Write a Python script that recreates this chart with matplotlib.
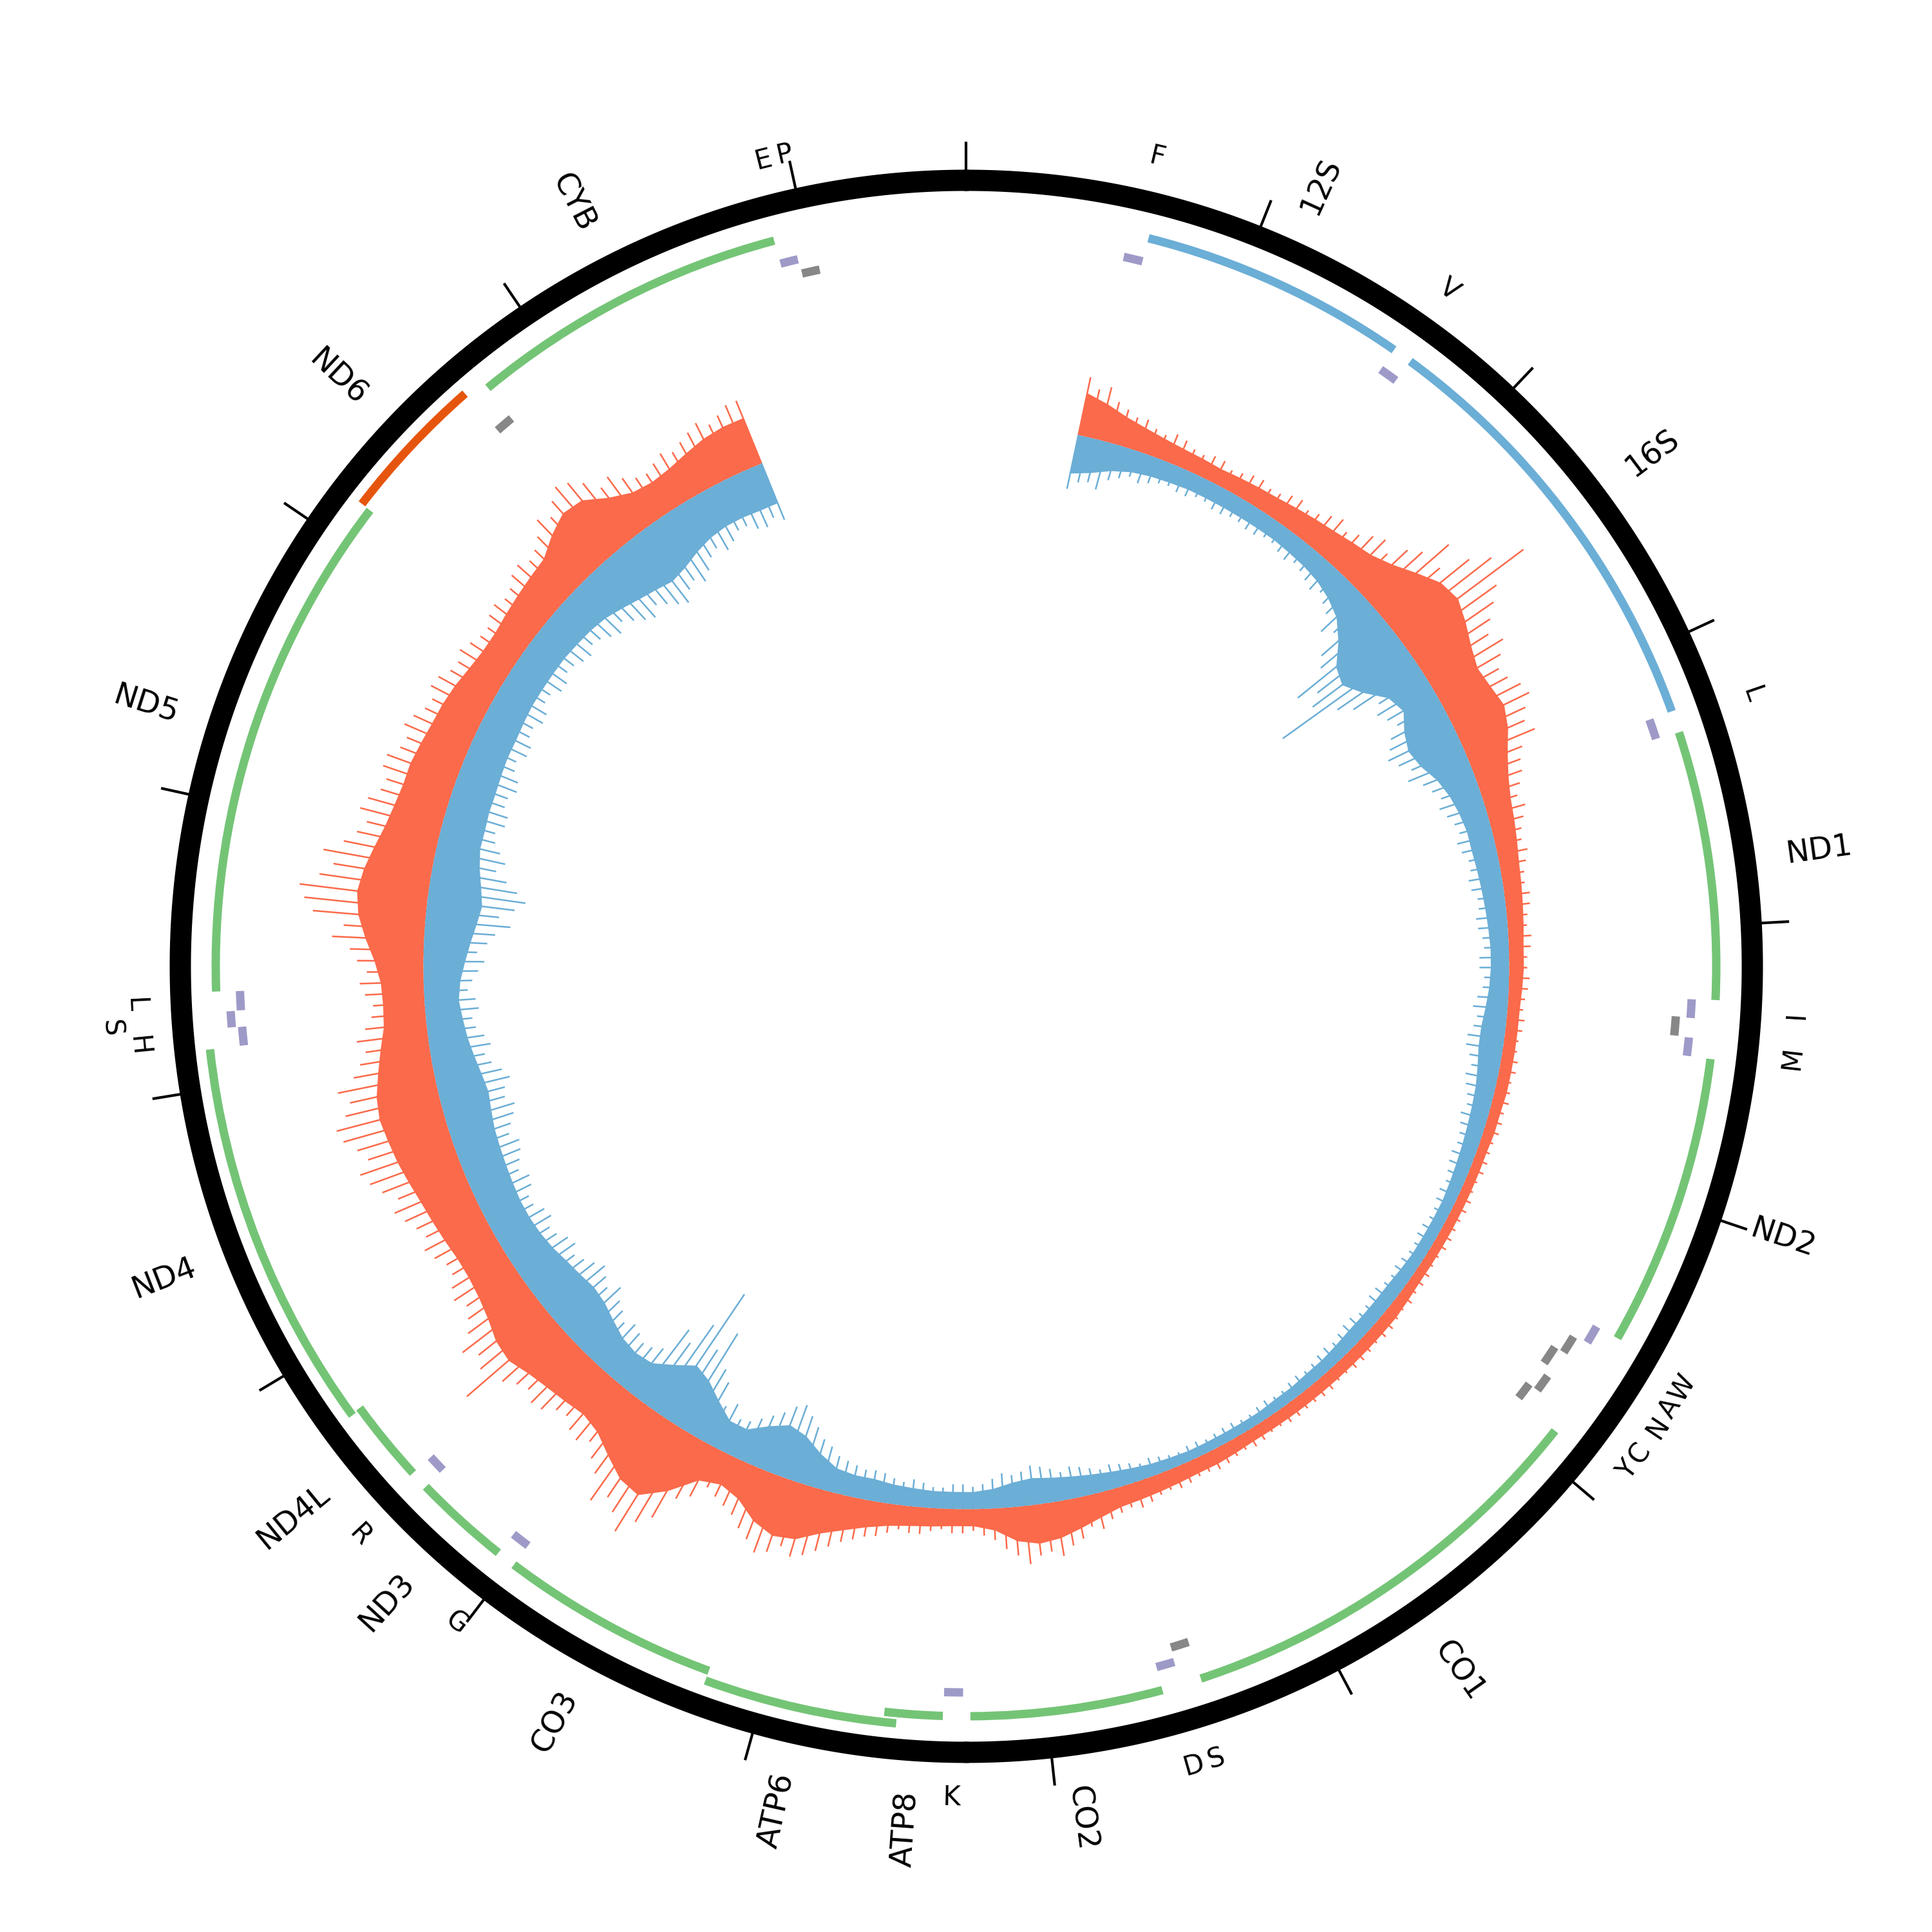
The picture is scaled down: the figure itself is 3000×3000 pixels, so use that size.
import numpy as np
import matplotlib
matplotlib.use("Agg")
import matplotlib.pyplot as plt

GENOME_LEN = 16569
TICK_STEP = 1000

# ---------------- genes (protein coding + rRNA) ----------------
GENE_NAMES = ["12S", "16S", "ND1", "ND2", "CO1", "CO2", "ATP8", "ATP6", "CO3",
              "ND3", "ND4L", "ND4", "ND5", "ND6", "CYB"]
GENE_START = [648, 1671, 3307, 4470, 5904, 7586, 8366, 8527, 9207,
              10059, 10470, 10760, 12337, 14149, 14747]
GENE_END = [1601, 3229, 4262, 5511, 7445, 8269, 8572, 9207, 9990,
            10404, 10766, 12137, 14148, 14673, 15887]
GENE_STRAND = ["+", "+", "+", "+", "+", "+", "+", "+", "+",
               "+", "+", "+", "+", "-", "+"]
GENE_TYPE = ["rRNA", "rRNA", "CDS", "CDS", "CDS", "CDS", "CDS", "CDS", "CDS",
             "CDS", "CDS", "CDS", "CDS", "CDS", "CDS"]

# ---------------- tRNAs ----------------
TRNA_LABEL = ["F", "V", "L", "I", "", "M", "W", "A", "N", "C", "Y", "S", "D", "K",
              "G", "R", "H", "S", "L", "", "E", "P"]
TRNA_START = [577, 1602, 3230, 4263, 4329, 4402, 5512, 5587, 5657, 5761, 5826,
              7446, 7518, 8295, 9991, 10405, 12138, 12207, 12266, 14674, 15888, 15956]
TRNA_END = [647, 1670, 3304, 4331, 4400, 4469, 5579, 5655, 5729, 5826, 5891,
            7514, 7585, 8364, 10058, 10469, 12206, 12265, 12336, 14742, 15953, 16023]
TRNA_STRAND = ["+", "+", "+", "+", "-", "+", "+", "-", "-", "-", "-",
               "-", "+", "+", "+", "+", "+", "+", "+", "-", "+", "-"]

# ---------------- coverage ----------------
# body: 100 bp bins starting at 550 ; spikes: 50 bp steps starting at 550
COV_START = 550
BODY_BIN = 100
SPIKE_BIN = 50
RED_BODY = [35, 30, 24, 20, 17, 15, 14, 13, 14, 15,
            16, 18, 20, 22, 25, 28, 35, 45, 55, 58,
            52, 45, 40, 42, 45, 40, 32, 26, 22, 20,
            18, 16, 15, 14, 13, 12, 12, 11, 10, 10,
            10, 10, 10, 9, 9, 8, 8, 8, 8, 8,
            8, 8, 8, 9, 10, 10, 10, 10, 10, 10,
            10, 10, 10, 10, 11, 12, 12, 13, 14, 15,
            16, 20, 25, 30, 32, 28, 18, 14, 14, 15,
            16, 18, 22, 28, 35, 45, 48, 42, 30, 25,
            30, 50, 65, 62, 52, 42, 38, 40, 42, 45,
            50, 48, 42, 38, 36, 36, 38, 40, 42, 45,
            48, 50, 52, 50, 45, 40, 35, 34, 35, 40,
            48, 55, 58, 55, 50, 45, 42, 40, 40, 38,
            36, 35, 33, 30, 28, 28, 30, 32, 34, 36,
            45, 52, 50, 38, 30, 28, 30, 34, 38, 40,
            40]
RED_SPIKE = [48, 40, 44, 34, 30, 26, 27, 22, 20, 24,
             22, 18, 17, 20, 20, 16, 18, 21, 22, 19,
             20, 24, 26, 22, 25, 30, 34, 28, 33, 40,
             45, 38, 52, 60, 80, 62, 85, 100, 125, 90,
             80, 70, 62, 70, 62, 55, 58, 65, 68, 60,
             55, 60, 45, 40, 38, 33, 28, 32, 28, 24,
             22, 25, 22, 19, 18, 21, 20, 17, 16, 19,
             18, 15, 15, 17, 16, 14, 13, 15, 14, 12,
             12, 14, 14, 12, 13, 14, 12, 13, 13, 11,
             11, 12, 12, 10, 10, 12, 12, 11, 11, 12,
             12, 10, 10, 12, 12, 11, 13, 11, 12, 14,
             14, 12, 13, 14, 14, 12, 12, 14, 14, 13,
             13, 14, 14, 12, 12, 14, 15, 13, 14, 16,
             17, 15, 15, 17, 18, 16, 17, 20, 22, 19,
             21, 24, 30, 26, 34, 38, 45, 40, 42, 48,
             40, 34, 26, 22, 18, 20, 20, 17, 19, 22,
             22, 20, 24, 28, 30, 34, 38, 44, 50, 56,
             60, 54, 62, 66, 58, 52, 44, 40, 36, 32,
             45, 52, 75, 85, 100, 88, 80, 90, 70, 62,
             52, 58, 55, 48, 50, 58, 60, 54, 58, 65,
             95, 72, 66, 75, 62, 55, 50, 56, 52, 46,
             46, 52, 56, 50, 54, 60, 65, 58, 68, 75,
             80, 70, 76, 85, 88, 78, 72, 80, 65, 58,
             52, 58, 50, 44, 42, 48, 52, 46, 54, 60,
             75, 66, 92, 100, 105, 90, 80, 90, 75, 66,
             60, 68, 64, 56, 54, 60, 60, 52, 50, 56,
             52, 46, 44, 50, 48, 42, 40, 44, 40, 36,
             35, 40, 42, 38, 40, 46, 48, 43, 46, 52,
             62, 56, 65, 72, 68, 60, 48, 52, 44, 38,
             36, 40, 44, 40, 44, 48, 52, 46, 50, 55,
             55]
BLUE_BODY = [32, 28, 22, 18, 16, 15, 14, 14, 14, 14,
             14, 14, 15, 16, 18, 22, 28, 40, 55, 60,
             50, 35, 30, 38, 42, 38, 30, 25, 22, 20,
             20, 19, 18, 17, 16, 15, 15, 16, 18, 20,
             20, 18, 16, 15, 14, 13, 12, 11, 10, 10,
             10, 10, 11, 12, 12, 12, 12, 11, 10, 10,
             9, 9, 8, 8, 8, 8, 8, 9, 10, 12,
             14, 16, 18, 20, 22, 20, 16, 14, 14, 14,
             15, 16, 18, 18, 20, 28, 38, 42, 35, 25,
             25, 35, 45, 50, 40, 30, 28, 30, 35, 40,
             42, 40, 38, 35, 33, 32, 32, 33, 34, 35,
             36, 38, 40, 38, 35, 32, 30, 28, 30, 34,
             38, 42, 45, 42, 38, 35, 35, 34, 34, 33,
             32, 32, 31, 30, 30, 30, 30, 31, 32, 34,
             38, 42, 45, 48, 45, 40, 36, 34, 34, 35,
             35]
BLUE_SPIKE = [45, 38, 36, 40, 30, 26, 22, 25, 22, 19,
              18, 20, 20, 17, 17, 20, 20, 18, 18, 20,
              20, 17, 17, 20, 22, 19, 21, 24, 27, 23,
              28, 32, 45, 38, 58, 65, 95, 80, 90, 125,
              75, 64, 44, 50, 45, 40, 50, 55, 60, 54,
              46, 52, 42, 37, 32, 36, 32, 28, 26, 30,
              28, 24, 24, 27, 26, 22, 22, 25, 24, 21,
              20, 24, 24, 20, 21, 25, 28, 24, 26, 30,
              30, 26, 23, 26, 24, 21, 19, 22, 20, 18,
              17, 19, 18, 16, 14, 16, 15, 13, 13, 15,
              15, 13, 13, 15, 16, 14, 15, 18, 18, 15,
              15, 18, 18, 16, 14, 16, 15, 13, 12, 14,
              13, 11, 11, 13, 12, 10, 10, 12, 12, 11,
              10, 12, 12, 10, 11, 13, 15, 13, 16, 18,
              20, 18, 21, 24, 26, 23, 27, 30, 32, 28,
              26, 28, 24, 20, 18, 20, 20, 17, 17, 20,
              22, 19, 21, 24, 25, 24, 26, 28, 30, 36,
              40, 48, 55, 62, 58, 50, 44, 38, 32, 30,
              40, 34, 52, 60, 90, 70, 120, 85, 62, 70,
              45, 40, 38, 42, 45, 40, 46, 50, 58, 50,
              55, 60, 55, 50, 46, 52, 50, 44, 42, 48,
              46, 40, 40, 46, 48, 42, 46, 50, 52, 46,
              50, 55, 58, 52, 54, 60, 55, 48, 44, 50,
              46, 40, 38, 44, 42, 36, 40, 45, 50, 44,
              52, 58, 70, 60, 72, 80, 72, 62, 52, 58,
              52, 46, 44, 50, 50, 45, 45, 50, 48, 42,
              40, 46, 46, 41, 40, 45, 44, 38, 38, 44,
              44, 39, 40, 44, 46, 41, 43, 48, 52, 46,
              52, 58, 62, 55, 60, 66, 70, 62, 58, 64,
              58, 50, 46, 52, 48, 42, 42, 48, 50, 45,
              50]

# ---------------- styles ----------------
C_RED = "#fb6a4a"
C_BLUE = "#6baed6"
C_GREEN = "#74c476"
C_ORANGE = "#e6550d"
C_PURPLE = "#9e9ac8"
C_GRAY = "#878787"

R_RING_IN, R_RING_OUT = 1204, 1237
R_TICK_OUT = 1280
R_GENE = 1165
GENE_W = 13
GENE_ALT = 16
R_TRNA_H = 1128
R_TRNA_L = 1105
TRNA_W = 13
TRNA_ALT = 16
R_COV = 843
COV_SCALE = 1.9
R_GENE_LABEL = 1285
R_TRNA_LABEL = 1291
TRNA_LABEL_ALT = 40
GENE_FS = 11.5
TRNA_FS = 10
LABEL_WEIGHT = "normal"


def ang(bp):
    return np.asarray(bp, dtype=float) / GENOME_LEN * 2 * np.pi


fig = plt.figure(figsize=(10, 10), dpi=300)
ax = fig.add_axes([0, 0, 1, 1], projection="polar")
ax.set_theta_zero_location("N")
ax.set_theta_direction(-1)
ax.set_ylim(0, 1500)
ax.axis("off")

# ---- coverage ----
th_b = ang(COV_START + BODY_BIN * np.arange(len(RED_BODY)))
th_s = ang(COV_START + SPIKE_BIN * np.arange(len(RED_SPIKE)))
rb = np.array(RED_BODY, float)
rs = np.array(RED_SPIKE, float)
bb = np.array(BLUE_BODY, float)
bs = np.array(BLUE_SPIKE, float)
ax.fill_between(th_b, R_COV, R_COV + rb * COV_SCALE, color=C_RED, lw=0)
ax.vlines(th_s, R_COV, R_COV + rs * COV_SCALE, color=C_RED, lw=0.6)
ax.fill_between(th_b, R_COV - bb * COV_SCALE, R_COV, color=C_BLUE, lw=0)
ax.vlines(th_s, R_COV - bs * COV_SCALE, R_COV, color=C_BLUE, lw=0.6)

# ---- outer ring and ticks ----
full = np.linspace(0, 2 * np.pi, 1441)
ax.fill_between(full, R_RING_IN, R_RING_OUT, color="black", lw=0)
ticks = np.arange(0, GENOME_LEN, TICK_STEP)
ax.vlines(ang(ticks), R_RING_OUT - 2, R_TICK_OUT, color="black", lw=1.0)

# ---- gene arcs ----
prev_end, prev_lvl = -1, 0
for name, s, e, strand, gtype in zip(GENE_NAMES, GENE_START, GENE_END, GENE_STRAND, GENE_TYPE):
    if strand == "-":
        lvl = 1
        color = C_ORANGE
    else:
        lvl = 1 if (s <= prev_end and prev_lvl == 0) else 0
        color = C_BLUE if gtype == "rRNA" else C_GREEN
        prev_end, prev_lvl = e, lvl
    rc = R_GENE + lvl * GENE_ALT
    t0, t1 = ang(s), ang(e)
    ax.bar((t0 + t1) / 2, GENE_W, width=t1 - t0, bottom=rc - GENE_W / 2,
           color=color, edgecolor="none", align="center")
    tm = np.degrees((t0 + t1) / 2)
    if tm < 180:
        rot, ha = 90 - tm, "left"
    else:
        rot, ha = 270 - tm, "right"
    ax.text(np.radians(tm), R_GENE_LABEL, name, rotation=rot, rotation_mode="anchor",
            ha=ha, va="center", fontsize=GENE_FS, fontweight=LABEL_WEIGHT,
            family="DejaVu Sans")

# ---- tRNA boxes ----
last = {"+": (-1000, 0), "-": (-1000, 0)}
for s, e, strand in zip(TRNA_START, TRNA_END, TRNA_STRAND):
    pe, pl = last[strand]
    lvl = 1 if (s - pe < 10 and pl == 0) else 0
    last[strand] = (e, lvl)
    if strand == "+":
        rc = R_TRNA_H + lvl * TRNA_ALT
        color = C_PURPLE
    else:
        rc = R_TRNA_L - lvl * TRNA_ALT
        color = C_GRAY
    t0, t1 = ang(s), ang(e)
    ax.bar((t0 + t1) / 2, TRNA_W, width=t1 - t0, bottom=rc - TRNA_W / 2,
           color=color, edgecolor="none", align="center")

# ---- tRNA labels ----
prev_mid, prev_alt = -1000, False
for lab, s, e in zip(TRNA_LABEL, TRNA_START, TRNA_END):
    if not lab:
        continue
    mid = (s + e) / 2
    alt = (mid - prev_mid < 65) and not prev_alt
    prev_mid, prev_alt = mid, alt
    tm = float(np.degrees(ang(mid)))
    rot = -tm if (tm < 90 or tm > 270) else 180 - tm
    r = R_TRNA_LABEL + (TRNA_LABEL_ALT if alt else 0)
    ax.text(np.radians(tm), r, lab, rotation=rot, rotation_mode="anchor",
            ha="center", va="center", fontsize=TRNA_FS, fontweight=LABEL_WEIGHT,
            family="DejaVu Sans")

fig.savefig("out.png", dpi=300, facecolor="white")
